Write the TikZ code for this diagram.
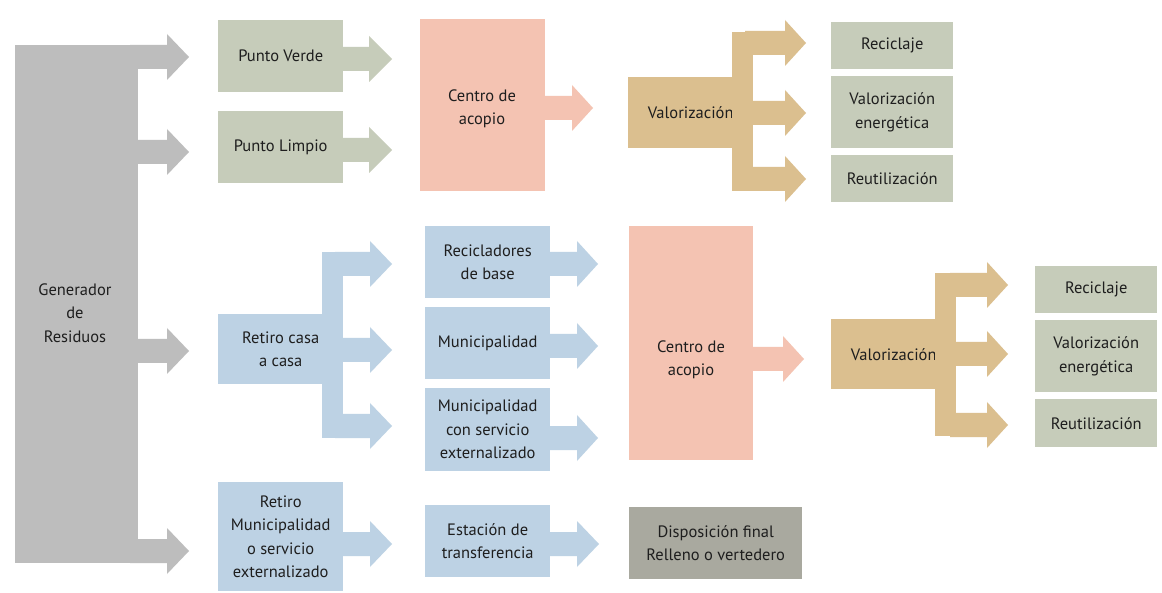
\documentclass[tikz,border=0pt]{standalone}
\usepackage{fontspec}
\setmainfont{PT Sans}
\definecolor{cgen}{HTML}{BDBDBD}
\definecolor{cgrn}{HTML}{C6CCBA}
\definecolor{cpnk}{HTML}{F4C3B2}
\definecolor{ctan}{HTML}{DBBF8F}
\definecolor{cblu}{HTML}{BDD2E4}
\definecolor{cdgr}{HTML}{A9A99F}
\definecolor{ctxt}{HTML}{1E1E1E}
\newcommand{\blockarr}[5]{%
  \fill[#1] (#2,#5-12) -- (#3,#5-12) -- (#3,#5-23) -- (#4,#5) -- (#3,#5+23) -- (#3,#5+12) -- (#2,#5+12) -- cycle;}
\begin{document}
\begin{tikzpicture}[x=1pt,y=-1pt,
  box/.style={inner sep=0pt, align=center, anchor=north west, text=ctxt,
              font=\fontsize{16.5}{23.5}\selectfont},
  plain/.style={inner sep=0pt, align=center, text=ctxt, font=\fontsize{16.5}{23.5}\selectfont}]
\useasboundingbox (0,0) rectangle (1162,593);
\fill[white] (0,0) rectangle (1162,593);

% Generator
\fill[cgen] (15,45) rectangle (138,563);
\blockarr{cgen}{130}{167}{189}{57}
\blockarr{cgen}{130}{167}{189}{152}
\blockarr{cgen}{130}{167}{189}{351}
\blockarr{cgen}{130}{167}{189}{551}
\node[plain] (gen) at (75,313) {Generador\\de\\Residuos};

% Top branch
\node[box, fill=cgrn, minimum width=125pt, minimum height=72pt] (pv) at (218,20) {Punto Verde};
\node[box, fill=cgrn, minimum width=125pt, minimum height=72pt] (pl) at (218,111) {Punto Limpio};
\blockarr{cgrn}{340}{369}{392}{59}
\blockarr{cgrn}{340}{369}{392}{150}
\fill[cpnk] (420,19) rectangle (545,191);
\node[plain] (ca1) at (482,109) {Centro de\\acopio};
\blockarr{cpnk}{540}{572}{593}{108}
\node[box, fill=ctan, minimum width=125pt, minimum height=71pt] (va1) at (628,77) {Valorización};
\fill[ctan] (732,32) rectangle (753,191);
\blockarr{ctan}{745}{785}{806}{43}
\blockarr{ctan}{745}{785}{806}{113}
\blockarr{ctan}{745}{785}{806}{179}
\node[box, fill=cgrn, minimum width=122pt, minimum height=47pt] (rc1) at (831,22) {Reciclaje};
\node[box, fill=cgrn, minimum width=122pt, minimum height=72pt] (ve1) at (831,76) {Valorización\\energética};
\node[box, fill=cgrn, minimum width=122pt, minimum height=47pt] (ru1) at (831,155) {Reutilización};

% Retiro casa a casa
\node[box, fill=cblu, minimum width=125pt, minimum height=70pt] (rcc) at (218,314) {Retiro casa\\a casa};
\fill[cblu] (322,252) rectangle (343,438);
\blockarr{cblu}{335}{370}{392}{264}
\blockarr{cblu}{335}{370}{392}{350}
\blockarr{cblu}{335}{370}{392}{426}
\node[box, fill=cblu, minimum width=125pt, minimum height=72pt] (rb) at (425,226) {Recicladores\\de base};
\node[box, fill=cblu, minimum width=125pt, minimum height=72pt] (mu) at (425,307) {Municipalidad};
\node[box, fill=cblu, minimum width=125pt, minimum height=83pt] (mcs) at (425,388) {Municipalidad\\con servicio\\externalizado};
\blockarr{cblu}{545}{577}{598}{264}
\blockarr{cblu}{545}{577}{598}{346}
\blockarr{cblu}{545}{577}{598}{438}
\fill[cpnk] (629,226) rectangle (753,460);
\node[plain] (ca2) at (691,360) {Centro de\\acopio};
\blockarr{cpnk}{748}{783}{804}{359}
\node[box, fill=ctan, minimum width=125pt, minimum height=70pt] (va2) at (831,319) {Valorización};
\fill[ctan] (935,273) rectangle (956,436);
\blockarr{ctan}{950}{987}{1008}{285}
\blockarr{ctan}{950}{987}{1008}{354}
\blockarr{ctan}{950}{987}{1008}{425}
\node[box, fill=cgrn, minimum width=122pt, minimum height=47pt] (rc2) at (1035,266) {Reciclaje};
\node[box, fill=cgrn, minimum width=122pt, minimum height=72pt] (ve2) at (1035,320) {Valorización\\energética};
\node[box, fill=cgrn, minimum width=122pt, minimum height=48pt] (ru2) at (1035,399) {Reutilización};

% Retiro Municipalidad
\node[box, fill=cblu, minimum width=125pt, minimum height=109pt] (rm) at (218,482) {Retiro\\Municipalidad\\o servicio\\externalizado};
\blockarr{cblu}{340}{370}{392}{544}
\node[box, fill=cblu, minimum width=125pt, minimum height=72pt] (et) at (425,505) {Estación de\\transferencia};
\blockarr{cblu}{545}{577}{599}{544}
\node[box, fill=cdgr, minimum width=173pt, minimum height=72pt] (df) at (629,507) {Disposición final\\Relleno o vertedero};
\end{tikzpicture}
\end{document}
